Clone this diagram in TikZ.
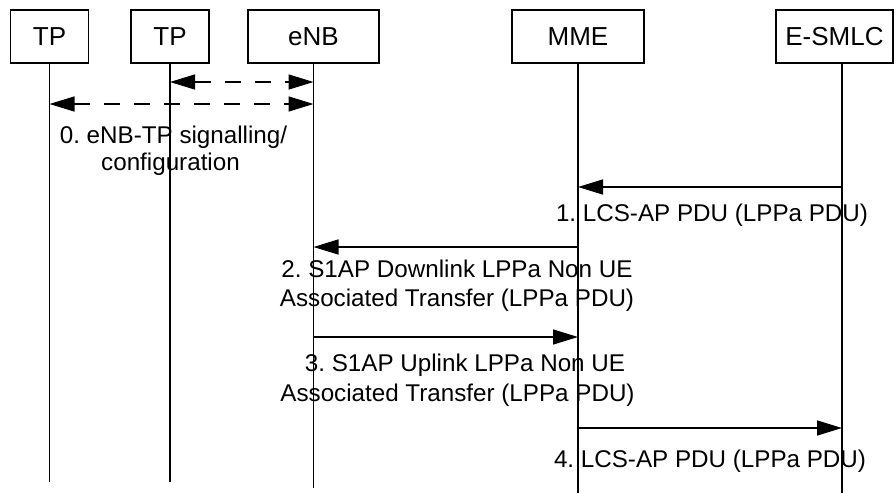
\documentclass[tikz,border=0pt]{standalone}
\usepackage{fontspec}
\setmainfont{Liberation Sans}
\usetikzlibrary{arrows.meta}
\frenchspacing
\begin{document}
\begin{tikzpicture}[x=1pt,y=-1pt,
  entity/.style={draw,line width=1.5pt,minimum height=53pt,inner sep=0pt,
    font=\fontsize{26}{30}\selectfont},
  life/.style={line width=1.5pt},
  msg/.style={line width=1.5pt,-{Triangle[length=25pt,width=15pt]}},
  dmsg/.style={line width=1.5pt,dash pattern=on 16pt off 14pt,
    {Triangle[length=25pt,width=15pt]}-{Triangle[length=25pt,width=15pt]}},
  lbl/.style={anchor=base,inner sep=0pt,font=\frenchspacing\fontsize{24.2}{29}\selectfont}]
\useasboundingbox (0,0) rectangle (896,493);
% entities
\node[entity,minimum width=78pt]  (tp1) at (49.5,36.5) {TP};
\node[entity,minimum width=78pt]  (tp2) at (170,36.5) {TP};
\node[entity,minimum width=131pt] (enb) at (313.5,36.5) {eNB};
\node[entity,minimum width=132pt] (mme) at (578,36.5) {MME};
\node[entity,minimum width=117pt] (esmlc) at (834.5,36.5) {E-SMLC};
% lifeline ends
\coordinate (tp1b) at (49.5,482);
\coordinate (tp2b) at (170,482);
\coordinate (enbb) at (313.5,488);
\coordinate (mmeb) at (578,493);
\coordinate (esmlct) at (842,63);
\coordinate (esmlcb) at (842,493);
\draw[life] (tp1.south) -- (tp1b);
\draw[life] (tp2.south) -- (tp2b);
\draw[life] (enb.south) -- (enbb);
\draw[life] (mme.south) -- (mmeb);
\draw[life] (esmlct) -- (esmlcb);
% message points
\coordinate (a0s) at (170,82);   \coordinate (a0e) at (313.5,82);
\coordinate (b0s) at (49.5,104); \coordinate (b0e) at (313.5,104);
\coordinate (m1s) at (842,187);  \coordinate (m1e) at (578,187);
\coordinate (m2s) at (578,247);  \coordinate (m2e) at (313.5,247);
\coordinate (m3s) at (313.5,337);\coordinate (m3e) at (578,337);
\coordinate (m4s) at (578,428);  \coordinate (m4e) at (842,428);
\draw[dmsg] (a0s) -- (a0e);
\draw[dmsg] (b0s) -- (b0e);
\draw[msg] (m1s) -- (m1e);
\draw[msg] (m2s) -- (m2e);
\draw[msg] (m3s) -- (m3e);
\draw[msg] (m4s) -- (m4e);
% labels
\node[lbl] (l0a) at (173.5,143) {0. eNB-TP signalling/};
\node[lbl] (l0b) at (170.5,170) {configuration};
\node[lbl] (l1) at (712,221) {1. LCS-AP PDU (LPPa PDU)};
\node[lbl] (l2a) at (457,277) {2. S1AP Downlink LPPa Non UE};
\node[lbl] (l2b) at (457,306.5) {Associated Transfer (LPPa PDU)};
\node[lbl] (l3a) at (465,371) {3. S1AP Uplink LPPa Non UE};
\node[lbl] (l3b) at (457.5,401) {Associated Transfer (LPPa PDU)};
\node[lbl] (l4) at (710,467) {4. LCS-AP PDU (LPPa PDU)};
\end{tikzpicture}
\end{document}
